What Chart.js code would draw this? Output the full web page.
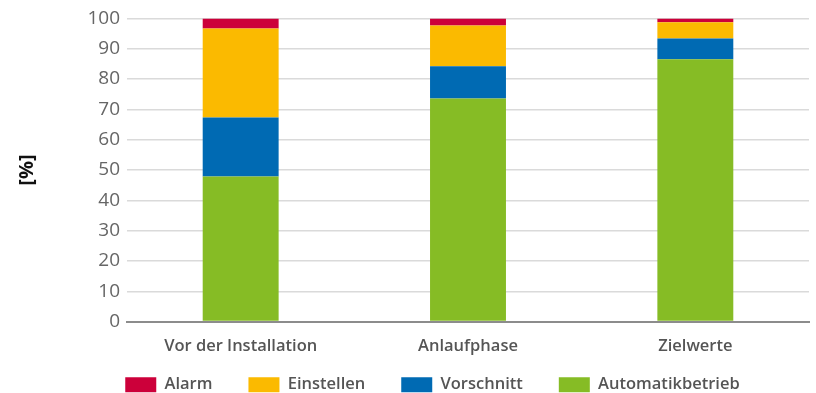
<!DOCTYPE html>
<html>
<head>
<meta charset="utf-8">
<script src="https://cdn.jsdelivr.net/npm/chart.js@4"></script>
<style>
  html, body { margin: 0; padding: 0; background: #fff; }
  #wrap { width: 816px; height: 393px; position: relative; }
</style>
</head>
<body>
<div id="wrap"><canvas id="shareChart"></canvas></div>
<script>
// ===============================
// DATA
// ===============================
const categories = ["Vor der Installation", "Anlaufphase", "Zielwerte"];
const automatik = [47.9, 73.6, 86.5];
const vorschnitt = [19.4, 10.6, 6.9];
const einstellen = [29.4, 13.5, 5.3];
const alarm = [3.3, 2.3, 1.3];
const yTicks = [0, 10, 20, 30, 40, 50, 60, 70, 80, 90, 100];

const FONT = "'Open Sans', 'Noto Sans', sans-serif";

// nudge the legend to where the original sits
const legendShift = {
  id: "legendShift",
  afterLayout(chart) {
    const lg = chart.legend;
    if (!lg) return;
    lg.left += 28; lg.right += 28;
    lg.top -= 31; lg.bottom -= 31;
  },
};

new Chart(document.getElementById("shareChart"), {
  type: "bar",
  data: {
    labels: categories,
    datasets: [
      { label: "Automatikbetrieb", data: automatik, backgroundColor: "#86bc25" },
      { label: "Vorschnitt", data: vorschnitt, backgroundColor: "#006ab3" },
      { label: "Einstellen", data: einstellen, backgroundColor: "#fbba00" },
      { label: "Alarm", data: alarm, backgroundColor: "#cc003a" },
    ],
  },
  options: {
    responsive: true,
    maintainAspectRatio: false,
    animation: false,
    layout: { padding: { top: 18, right: 7, bottom: -41, left: 0 } },
    datasets: {
      bar: { borderWidth: 0, barPercentage: 1, categoryPercentage: 0.334 },
    },
    scales: {
      x: {
        stacked: true,
        grid: { display: false, drawTicks: false },
        border: { display: true, color: "#8c8c8c", width: 2 },
        ticks: {
          padding: 15,
          color: "#555",
          font: { family: FONT, size: 16.5, weight: "600" },
        },
      },
      y: {
        stacked: true,
        min: 0,
        max: 100,
        afterFit: (scale) => { scale.width = 127; },
        afterBuildTicks: (scale) => {
          scale.ticks = yTicks.map((v) => ({ value: v }));
        },
        grid: {
          drawTicks: false,
          color: (ctx) => (ctx.tick && ctx.tick.value === 0 ? "#8c8c8c" : "#dadada"),
          lineWidth: (ctx) => (ctx.tick && ctx.tick.value === 0 ? 2 : 1.5),
        },
        border: { display: false },
        ticks: {
          padding: 7,
          color: "#666",
          font: { family: FONT, size: 19 },
        },
        title: {
          display: true,
          text: "[%]",
          color: "#111",
          padding: { top: 15, bottom: 0 },
          font: { family: FONT, size: 20, weight: "bold" },
        },
      },
    },
    plugins: {
      tooltip: { enabled: false },
      legend: {
        position: "bottom",
        reverse: true,
        labels: {
          boxWidth: 31,
          boxHeight: 15,
          padding: 36,
          color: "#555",
          font: { family: FONT, size: 16.5, weight: "600" },
        },
      },
    },
  },
  plugins: [legendShift],
});
</script>
</body>
</html>
